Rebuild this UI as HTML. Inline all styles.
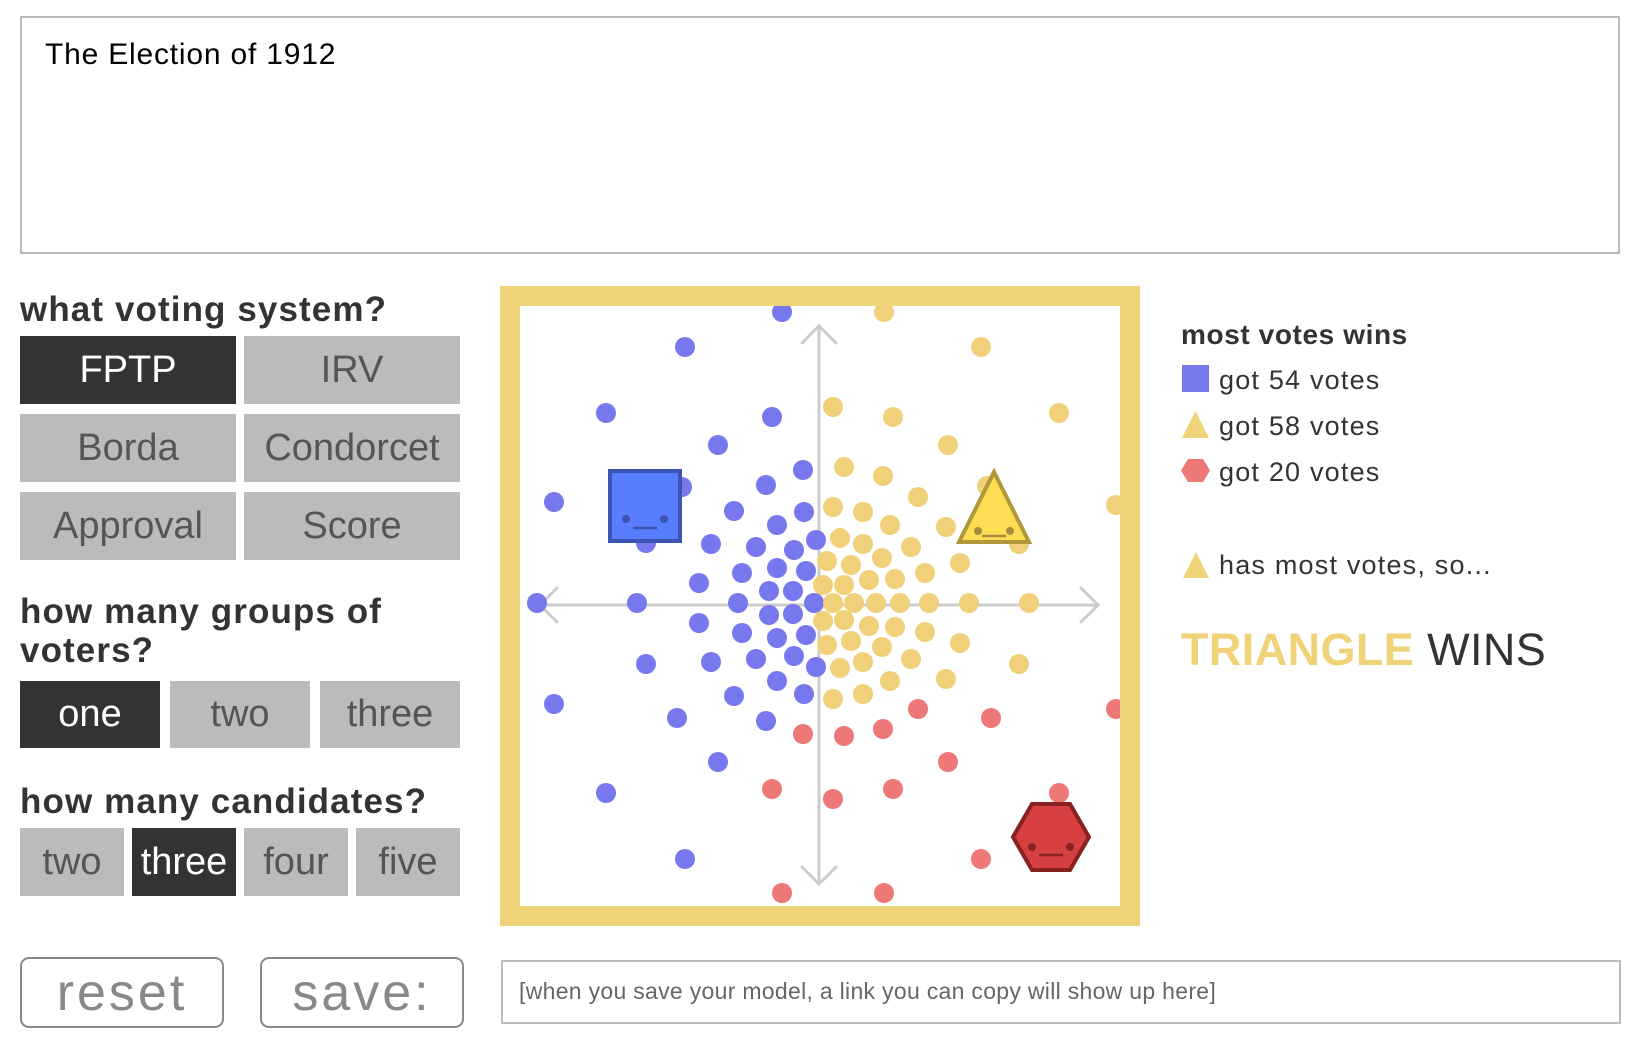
<!DOCTYPE html>
<html><head><meta charset="utf-8">
<style>
html,body{margin:0;padding:0;background:#fff;}
body{width:1648px;height:1060px;position:relative;overflow:hidden;font-family:"Liberation Sans",Arial,sans-serif;}
.abs{position:absolute;}
.title-box{left:20px;top:16px;width:1596px;height:234px;border:2px solid #bbb;box-sizing:content-box;}
.title-text{left:23px;top:22px;font-size:30px;line-height:1;color:#000;letter-spacing:0.8px;}
.h{font-weight:bold;font-size:35px;color:#333;line-height:1;letter-spacing:1.1px;}
.btn{position:absolute;background:#bbb;color:#555;font-size:38px;display:flex;align-items:center;justify-content:center;}
.btn.on{background:#333;color:#fff;}
.ob{position:absolute;border:2px solid #888;border-radius:9px;color:#888;font-size:52px;letter-spacing:3px;display:flex;align-items:center;justify-content:center;box-sizing:border-box;}
.leg{font-size:27px;color:#333;line-height:1;letter-spacing:1.2px;}
</style></head>
<body>
<div class="abs title-box">
  <div class="abs title-text">The Election of 1912</div>
</div>

<div class="abs h" style="left:20px;top:292px;">what voting system?</div>
<div class="btn on" style="left:20px;top:336px;width:216px;height:68px;">FPTP</div>
<div class="btn" style="left:244px;top:336px;width:216px;height:68px;">IRV</div>
<div class="btn" style="left:20px;top:414px;width:216px;height:68px;">Borda</div>
<div class="btn" style="left:244px;top:414px;width:216px;height:68px;">Condorcet</div>
<div class="btn" style="left:20px;top:492px;width:216px;height:68px;">Approval</div>
<div class="btn" style="left:244px;top:492px;width:216px;height:68px;">Score</div>

<div class="abs h" style="left:20px;top:592px;line-height:39px;">how many groups of<br>voters?</div>
<div class="btn on" style="left:20px;top:681px;width:140px;height:67px;">one</div>
<div class="btn" style="left:170px;top:681px;width:140px;height:67px;">two</div>
<div class="btn" style="left:320px;top:681px;width:140px;height:67px;">three</div>

<div class="abs h" style="left:20px;top:784px;">how many candidates?</div>
<div class="btn" style="left:20px;top:828px;width:104px;height:68px;">two</div>
<div class="btn on" style="left:132px;top:828px;width:104px;height:68px;">three</div>
<div class="btn" style="left:244px;top:828px;width:104px;height:68px;">four</div>
<div class="btn" style="left:356px;top:828px;width:104px;height:68px;">five</div>

<div class="ob" style="left:20px;top:957px;width:204px;height:71px;">reset</div>
<div class="ob" style="left:260px;top:957px;width:204px;height:71px;">save:</div>
<div class="abs" style="left:501px;top:960px;width:1116px;height:60px;border:2px solid #bbb;">
  <div class="abs" style="left:16px;top:18px;font-size:23px;line-height:1;color:#666;letter-spacing:0.3px;">[when you save your model, a link you can copy will show up here]</div>
</div>

<svg class="abs" style="left:500px;top:286px;" width="640" height="640" id="plot">
  <defs><clipPath id="inner"><rect x="20" y="20" width="600" height="600"/></clipPath></defs>
  <rect x="10" y="10" width="620" height="620" fill="#fff" stroke="#F0D278" stroke-width="20"/>
  <g clip-path="url(#inner)" id="plotg"></g>
</svg>

<div class="abs" style="left:1181px;top:321px;font-size:28px;font-weight:bold;color:#333;line-height:1;letter-spacing:0.6px;">most votes wins</div>
<div id="legend"></div>
<svg class="abs" style="left:1181px;top:550px;" width="30" height="30"><polygon points="15,2 28,28 2,28" fill="#F0D278"/></svg>
<div class="abs leg" style="left:1219px;top:552px;">has most votes, so...</div>
<div class="abs" style="left:1181px;top:627px;font-size:45px;line-height:1;color:#333;letter-spacing:0.4px;"><b style="color:#F0D278;">TRIANGLE</b> WINS</div>

<script>
// voter offsets from plot centre (px units of the issue space, y down)
const blueX=[-16,-53,-85,-15,-42,-3,-108,-63,-25,-77,-42,-13,-120,-50,-26,-81,-5,-50,-26,-120,-77,-42,-13,-108,-63,-25,-3,-42,-85,-15,-53,-142,-37,-134,-213,-47,-101,-265,-137,-173,-282,-182,-173,-265,-101,-213,-134];
const blueY=[-135,-120,-94,-93,-80,-65,-61,-58,-55,-32,-37,-34,-22,-14,-14,-2,-2,10,9,18,28,33,30,57,54,51,62,76,91,89,116,113,-293,-258,-192,-188,-160,-103,-118,-62,-2,-2,59,99,157,188,254];
const yellowX=[25,64,99,14,44,71,127,21,44,92,8,32,63,106,50,76,4,25,14,35,57,81,110,4,25,50,76,106,8,32,63,92,21,44,127,71,14,44,141,141,65,162,14,74,240,129,168,200,150,210,200,297];
const yellowY=[-138,-129,-108,-98,-93,-80,-78,-67,-61,-58,-44,-40,-47,-32,-25,-26,-20,-20,-2,-2,-2,-2,-2,16,15,21,22,27,40,36,42,54,63,57,74,76,94,89,-42,38,-293,-258,-198,-188,-192,-160,-119,-61,-2,-2,59,-100];
const redX=[99,64,25,-16,172,129,74,14,-47,240,162,65,-37,297];
const redY=[104,124,131,129,113,157,184,194,184,188,254,288,288,104];
const candNames=["square","triangle","hexagon"];
const candX=[-174,175,232];
const candY=[-99,-93,232];
const voteCounts=[54,58,20];

const NS="http://www.w3.org/2000/svg";
const CX=319,CY=319;
const sx=v=>CX+v, sy=v=>CY+v;
const g=document.getElementById('plotg');
function mk(tag,attrs,parent){const e=document.createElementNS(NS,tag);for(const k in attrs)e.setAttribute(k,attrs[k]);(parent||g).appendChild(e);return e;}

const ax=mk('g',{stroke:'#ccc','stroke-width':3,fill:'none','stroke-linecap':'round'});


mk('line',{x1:sx(-279),y1:sy(0),x2:sx(279),y2:sy(0)},ax);
mk('line',{x1:sx(0),y1:sy(-279),x2:sx(0),y2:sy(279)},ax);
mk('polyline',{points:`${sx(-262)},${sy(-17)} ${sx(-279)},${sy(0)} ${sx(-262)},${sy(17)}`},ax);
mk('polyline',{points:`${sx(262)},${sy(-17)} ${sx(279)},${sy(0)} ${sx(262)},${sy(17)}`},ax);
mk('polyline',{points:`${sx(-17)},${sy(-262)} ${sx(0)},${sy(-279)} ${sx(17)},${sy(-262)}`},ax);
mk('polyline',{points:`${sx(-17)},${sy(262)} ${sx(0)},${sy(279)} ${sx(17)},${sy(262)}`},ax);

const colors=['#7777EE','#F0D078','#EE7777'];
const allX=blueX.concat(yellowX,redX), allY=blueY.concat(yellowY,redY);
for(let i=0;i<allX.length;i++){
  let best=0,bd=1e9;
  for(let c=0;c<candX.length;c++){const d=(allX[i]-candX[c])**2+(allY[i]-candY[c])**2;if(d<bd){bd=d;best=c;}}
  const d=mk('circle',{cx:sx(allX[i]),cy:sy(allY[i]),r:10,fill:colors[best]});
  
  
}

function face(gr,dark,ey,my,ex){
  mk('circle',{cx:-ex,cy:ey,r:4,fill:dark},gr);
  mk('circle',{cx:ex,cy:ey,r:4,fill:dark},gr);
  mk('line',{x1:-12,y1:my,x2:12,y2:my,stroke:dark,'stroke-width':2.5},gr);
}
let gs=mk('g',{transform:`translate(${sx(candX[0])},${sy(candY[0])})`});


mk('rect',{x:-35,y:-35,width:70,height:70,fill:'#587EFF',stroke:'#3C55B2','stroke-width':4},gs);
face(gs,'#3C55B2',13,22,19);
let gt=mk('g',{transform:`translate(${sx(candX[1])},${sy(candY[1])})`});


mk('polygon',{points:'0,-40 35,30 -35,30',fill:'#FFDD55',stroke:'#B0983A','stroke-width':4},gt);
face(gt,'#A88E3A',19,24,16);
let gh=mk('g',{transform:`translate(${sx(candX[2])},${sy(candY[2])})`});


mk('polygon',{points:'-38,0 -19,-33 19,-33 38,0 19,33 -19,33',fill:'#D64040',stroke:'#882222','stroke-width':4},gh);
face(gh,'#882222',10,18,19);

const leg=document.getElementById('legend');
const legIcons=[
 '<rect x="1" y="1" width="27" height="27" fill="#7777EE"/>',
 '<polygon points="14.5,1 28,28 1,28" fill="#F0D278"/>',
 '<polygon points="0,14.5 7,3 22,3 29,14.5 22,26 7,26" fill="#EE7777"/>'];
for(let i=0;i<voteCounts.length;i++){
  const base=389+46*i;
  const ic=document.createElement('div');
  ic.className='abs';
  ic.style.cssText=`left:1181px;top:${base-25}px;width:30px;height:30px;`;
  ic.innerHTML=`<svg width="30" height="30">${legIcons[i]}</svg>`;
  
  
  leg.appendChild(ic);
  const t=document.createElement('div');
  t.className='abs leg';
  t.style.cssText=`left:1219px;top:${base-22}px;`;
  t.textContent='got '+voteCounts[i]+' votes';
  
  
  leg.appendChild(t);
}
</script>
</body></html>
